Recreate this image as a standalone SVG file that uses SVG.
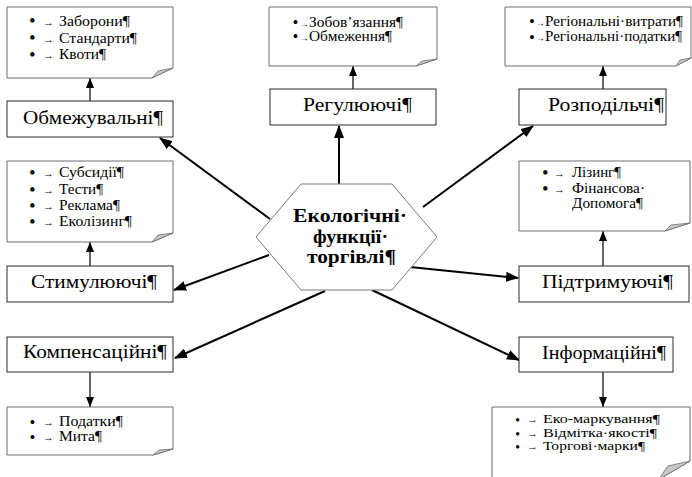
<svg xmlns="http://www.w3.org/2000/svg" width="692" height="477" viewBox="0 0 692 477">
<defs>
<style>
.note{fill:#fff;stroke:#6e6e6e;stroke-width:1}
.fold{fill:#c8c8c8;stroke:#6e6e6e;stroke-width:0.8}
.box{fill:#fff;stroke:#2a2a2a;stroke-width:1}
.hex{fill:#fff;stroke:#7a7a7a;stroke-width:1}
.lbl{font-family:"Liberation Serif","Times New Roman",serif;font-size:18.5px;fill:#000}
.nt{font-family:"Liberation Serif","Times New Roman",serif;font-size:14px;fill:#000}
.ns{font-family:"Liberation Serif","Times New Roman",serif;font-size:12px;fill:#000}
.bl{font-family:"Liberation Serif","Times New Roman",serif;font-size:16px;font-weight:bold;fill:#000}
.bs{font-family:"Liberation Serif","Times New Roman",serif;font-size:14px;font-weight:bold;fill:#000}
.bx{font-family:"Liberation Serif","Times New Roman",serif;font-size:12px;font-weight:bold;fill:#000}
.ar{font-size:11px;font-weight:normal}
.ac{font-size:8.5px;font-weight:normal}
.hx{font-family:"Liberation Serif","Times New Roman",serif;font-size:18.5px;font-weight:bold;fill:#000}
.main{stroke:#000;stroke-width:2;fill:none;marker-end:url(#ah)}
.thin{stroke:#000;stroke-width:1.2;fill:none;marker-end:url(#as)}
</style>
<marker id="ah" markerUnits="userSpaceOnUse" markerWidth="14" markerHeight="10" refX="12" refY="5" orient="auto"><path d="M0 0L13 5L0 10Z" fill="#000"/></marker>
<marker id="as" markerUnits="userSpaceOnUse" markerWidth="12" markerHeight="10" refX="10" refY="4" orient="auto"><path d="M0 0L10 4L0 8Z" fill="#000"/></marker>
</defs>
<rect width="692" height="477" fill="#fff"/>

<g id="connectors">
<line class="main" x1="270" y1="219" x2="160" y2="138"/>
<line class="main" x1="339" y1="184" x2="339" y2="126"/>
<line class="main" x1="423" y1="207" x2="533" y2="126"/>
<line class="main" x1="269" y1="255" x2="174" y2="290"/>
<line class="main" x1="410" y1="267" x2="518" y2="278"/>
<line class="main" x1="325" y1="291" x2="175" y2="358"/>
<line class="main" x1="372" y1="290" x2="519" y2="360"/>
<line class="thin" x1="90" y1="101" x2="90" y2="78"/>
<line class="thin" x1="353" y1="89" x2="353" y2="66"/>
<line class="thin" x1="603" y1="89" x2="603" y2="66"/>
<line class="thin" x1="90" y1="266" x2="90" y2="242"/>
<line class="thin" x1="603" y1="266" x2="603" y2="231"/>
<line class="thin" x1="90" y1="372" x2="90" y2="407"/>
<line class="thin" x1="603" y1="372" x2="603" y2="407"/>
</g>

<g id="center">
<polygon class="hex" points="256,237 301,184 392,184 437,237 392,290 301,290"/>
<text class="hx" x="293" y="222" textLength="114" lengthAdjust="spacingAndGlyphs">Екологічні·</text>
<text class="hx" x="313" y="243" textLength="75" lengthAdjust="spacingAndGlyphs">функції·</text>
<text class="hx" x="307" y="263" textLength="89" lengthAdjust="spacingAndGlyphs">торгівлі¶</text>
</g>

<g id="obmezhuvalni">
<rect class="box" x="7" y="101" width="166" height="36"/>
<text class="lbl" x="23" y="124" textLength="140" lengthAdjust="spacingAndGlyphs">Обмежувальні¶</text>
</g>
<g id="note-obmezhuvalni">
<path class="note" d="M7 7H173V68L152 78H7Z"/>
<path class="fold" d="M173 68L152 78L158 71Z"/>
<text class="bl" y="26"><tspan x="29.5">•</tspan><tspan class="ar" x="43" dy="-0.5">→</tspan></text>
<text class="nt" x="59" y="25.5" textLength="71" lengthAdjust="spacingAndGlyphs">Заборони¶</text>
<text class="bl" y="43"><tspan x="29.5">•</tspan><tspan class="ar" x="43" dy="-0.5">→</tspan></text>
<text class="nt" x="59" y="42.5" textLength="78" lengthAdjust="spacingAndGlyphs">Стандарти¶</text>
<text class="bl" y="59.5"><tspan x="29.5">•</tspan><tspan class="ar" x="43" dy="-0.5">→</tspan></text>
<text class="nt" x="59" y="59" textLength="47" lengthAdjust="spacingAndGlyphs">Квоти¶</text>
</g>

<g id="rehuliuiuchi">
<rect class="box" x="270" y="89" width="166" height="36"/>
<text class="lbl" x="303" y="111" textLength="109" lengthAdjust="spacingAndGlyphs">Регулюючі¶</text>
</g>
<g id="note-rehuliuiuchi">
<path class="note" d="M269 7H437V59L416 66H269Z"/>
<path class="fold" d="M437 59L416 66L422 61Z"/>
<text class="bs" y="27"><tspan x="293">•</tspan><tspan class="ac" x="300" dy="-0.5">→</tspan></text>
<text class="nt" x="309" y="26.5" textLength="94" lengthAdjust="spacingAndGlyphs">Зобов’язання¶</text>
<text class="bs" y="41"><tspan x="293">•</tspan><tspan class="ac" x="300" dy="-0.5">→</tspan></text>
<text class="nt" x="309" y="40.5" textLength="83" lengthAdjust="spacingAndGlyphs">Обмеження¶</text>
</g>

<g id="rozpodilchi">
<rect class="box" x="519" y="89" width="147" height="36"/>
<text class="lbl" x="548" y="111" textLength="116" lengthAdjust="spacingAndGlyphs">Розподільчі¶</text>
</g>
<g id="note-rozpodilchi">
<path class="note" d="M505 7H691V58L676 66H505Z"/>
<path class="fold" d="M691 58L676 66L680 60Z"/>
<text class="bs" y="26"><tspan x="529.5">•</tspan><tspan class="ac" x="536" dy="-0.5">→</tspan></text>
<text class="nt" x="545" y="25.5" textLength="138" lengthAdjust="spacingAndGlyphs">Регіональні·витрати¶</text>
<text class="bs" y="41.5"><tspan x="529.5">•</tspan><tspan class="ac" x="536" dy="-0.5">→</tspan></text>
<text class="nt" x="545" y="41" textLength="137" lengthAdjust="spacingAndGlyphs">Регіональні·податки¶</text>
</g>

<g id="stymuliuiuchi">
<rect class="box" x="7" y="266" width="166" height="36"/>
<text class="lbl" x="31" y="288" textLength="126" lengthAdjust="spacingAndGlyphs">Стимулюючі¶</text>
</g>
<g id="note-stymuliuiuchi">
<path class="note" d="M7 161H173V233L152 242H7Z"/>
<path class="fold" d="M173 233L152 242L158 235Z"/>
<text class="bl" y="177.5"><tspan x="29.5">•</tspan><tspan class="ar" x="43" dy="-0.5">→</tspan></text>
<text class="nt" x="59" y="177" textLength="65" lengthAdjust="spacingAndGlyphs">Субсидії¶</text>
<text class="bl" y="194.5"><tspan x="29.5">•</tspan><tspan class="ar" x="43" dy="-0.5">→</tspan></text>
<text class="nt" x="59" y="194" textLength="44" lengthAdjust="spacingAndGlyphs">Тести¶</text>
<text class="bl" y="210.5"><tspan x="29.5">•</tspan><tspan class="ar" x="43" dy="-0.5">→</tspan></text>
<text class="nt" x="59" y="210" textLength="61" lengthAdjust="spacingAndGlyphs">Реклама¶</text>
<text class="bl" y="226.5"><tspan x="29.5">•</tspan><tspan class="ar" x="43" dy="-0.5">→</tspan></text>
<text class="nt" x="59" y="226" textLength="73" lengthAdjust="spacingAndGlyphs">Еколізинг¶</text>
</g>

<g id="pidtrymuiuchi">
<rect class="box" x="519" y="266" width="170" height="36"/>
<text class="lbl" x="542" y="288" textLength="131" lengthAdjust="spacingAndGlyphs">Підтримуючі¶</text>
</g>
<g id="note-pidtrymuiuchi">
<path class="note" d="M519 161H690V223L665 231H519Z"/>
<path class="fold" d="M690 223L665 231L671 225Z"/>
<text class="bl" y="177.5"><tspan x="542.5">•</tspan><tspan class="ar" x="554" dy="-0.5">→</tspan></text>
<text class="nt" x="572" y="177" textLength="49" lengthAdjust="spacingAndGlyphs">Лізинг¶</text>
<text class="bl" y="193.5"><tspan x="542.5">•</tspan><tspan class="ar" x="554" dy="-0.5">→</tspan></text>
<text class="nt" x="572" y="193" textLength="73" lengthAdjust="spacingAndGlyphs">Фінансова·</text>
<text class="nt" x="572" y="208" textLength="71" lengthAdjust="spacingAndGlyphs">Допомога¶</text>
</g>

<g id="kompensatsiini">
<rect class="box" x="7" y="337" width="166" height="35"/>
<text class="lbl" x="23" y="358" textLength="144" lengthAdjust="spacingAndGlyphs">Компенсаційні¶</text>
</g>
<g id="note-kompensatsiini">
<path class="note" d="M7 407H173V449L153 455H7Z"/>
<path class="fold" d="M173 449L153 455L159 450Z"/>
<text class="bs" y="426.5"><tspan x="30">•</tspan><tspan class="ar" x="43" dy="-0.5">→</tspan></text>
<text class="nt" x="59" y="426" textLength="64" lengthAdjust="spacingAndGlyphs">Податки¶</text>
<text class="bs" y="441.5"><tspan x="30">•</tspan><tspan class="ar" x="43" dy="-0.5">→</tspan></text>
<text class="nt" x="59" y="441" textLength="43" lengthAdjust="spacingAndGlyphs">Мита¶</text>
</g>

<g id="informatsiini">
<rect class="box" x="519" y="337" width="154" height="35"/>
<text class="lbl" x="542" y="359" textLength="124" lengthAdjust="spacingAndGlyphs">Інформаційні¶</text>
</g>
<g id="note-informatsiini">
<path class="note" d="M492 407H690V461L658 480H492Z"/>
<path class="fold" d="M690 461L658 480L668 466Z"/>
<text class="bx" y="423.5"><tspan x="515.5">•</tspan><tspan class="ar" x="527" dy="-0.5">→</tspan></text>
<text class="ns" x="543" y="423" textLength="117" lengthAdjust="spacingAndGlyphs">Еко-маркування¶</text>
<text class="bx" y="437.5"><tspan x="515.5">•</tspan><tspan class="ar" x="527" dy="-0.5">→</tspan></text>
<text class="ns" x="543" y="437" textLength="114" lengthAdjust="spacingAndGlyphs">Відмітка·якості¶</text>
<text class="bx" y="450.5"><tspan x="515.5">•</tspan><tspan class="ar" x="527" dy="-0.5">→</tspan></text>
<text class="ns" x="543" y="450" textLength="102" lengthAdjust="spacingAndGlyphs">Торгові·марки¶</text>
</g>
</svg>
